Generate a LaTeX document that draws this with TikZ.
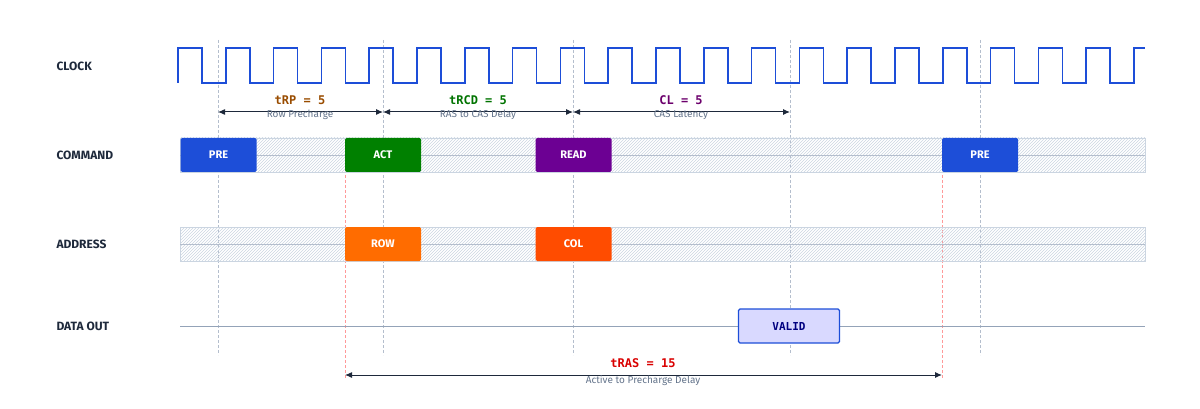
\documentclass[tikz,border=0pt]{standalone}
\usepackage{fontspec}
\setmainfont{Fira Sans}
\setmonofont{DejaVu Sans Mono}
\usetikzlibrary{arrows.meta,patterns}
\definecolor{clk}{HTML}{1D4ED8}
\definecolor{ink}{HTML}{1E293B}
\definecolor{mute}{HTML}{64748B}
\definecolor{grid}{HTML}{94A3B8}
\definecolor{hatch}{HTML}{CBD5E1}
\tikzset{
  rowlabel/.style={anchor=west, font=\fontsize{12}{12}\selectfont\bfseries, text=ink},
  cmd/.style={draw=none, fill=#1, rounded corners=1.5pt, minimum height=34pt, minimum width=76pt,
    text=white, font=\fontsize{11}{11}\selectfont\bfseries, inner sep=0pt},
  bus/.style={draw=hatch, pattern=north east lines, pattern color=hatch},
  cyc/.style={densely dashed, grid!70, line width=0.6pt},
  ras/.style={densely dashed, red!40, line width=0.6pt},
  span/.style={{Latex[length=7pt,width=6pt]}-{Latex[length=7pt,width=6pt]}, ink, line width=1pt},
  tname/.style={font=\ttfamily\fontsize{12}{12}\selectfont\bfseries},
  tsub/.style={font=\fontsize{10}{10}\selectfont, text=mute}
}
\begin{document}
\begin{tikzpicture}[x=1pt,y=-1pt]
  \useasboundingbox (0,0) rectangle (1200,409);
  % row labels
  \node[rowlabel] (lclk) at (53,66) {CLOCK};
  \node[rowlabel] (lcmd) at (53,155) {COMMAND};
  \node[rowlabel] (ladr) at (53,244) {ADDRESS};
  \node[rowlabel] (ldat) at (53,326) {DATA OUT};
  % cycle markers
  \foreach \x in {218,383,573,790,980}
    \draw[cyc] (\x,40) -- (\x,355);
  \foreach \x in {345,942}
    \draw[ras] (\x,175) -- (\x,378);
  % clock
  \draw[clk, line width=1.6pt]
    (178,83) \foreach \i in {0,...,19} {
      -- ++(0,-35) -- ++(23.9,0) -- ++(0,35) -- ++(23.9,0) }
    -- ++(0,-35) -- (1145,48);
  % buses
  \draw[bus] (180,138) rectangle (1145,172);
  \draw[grid!70] (180,155) -- (1145,155);
  \draw[bus] (180,227) rectangle (1145,261);
  \draw[grid!70] (180,244) -- (1145,244);
  \draw[grid, line width=1pt] (180,326) -- (1145,326);
  % commands
  \node[cmd=clk] (pre1) at (218.5,155) {PRE};
  \node[cmd=green!50!black] (act) at (383,155) {ACT};
  \node[cmd=violet!85!blue] (read) at (573.5,155) {READ};
  \node[cmd=clk] (pre2) at (980,155) {PRE};
  \node[cmd=orange!85!red] (row) at (383,244) {ROW};
  \node[cmd=orange!60!red] (col) at (573.5,244) {COL};
  \node[cmd=blue!15, draw=clk, line width=1.2pt, minimum width=101pt, text=blue!50!black,
    font=\ttfamily\fontsize{11}{11}\selectfont\bfseries] (valid) at (789,326) {VALID};
  % timing spans
  \coordinate (t0) at (218,112);
  \coordinate (t1) at (383,112);
  \coordinate (t2) at (573,112);
  \coordinate (t3) at (790,112);
  \draw[span] (t0) -- (t1);
  \draw[span] (t1) -- (t2);
  \draw[span] (t2) -- (t3);
  \node[tname, text=orange!60!black] (trp) at (300,100) {tRP = 5};
  \node[tsub] at (300,115) {Row Precharge};
  \node[tname, text=green!45!black] (trcd) at (478,100) {tRCD = 5};
  \node[tsub] at (478,115) {RAS to CAS Delay};
  \node[tname, text=violet!85!black] (tcl) at (681,100) {CL = 5};
  \node[tsub] at (681,115) {CAS Latency};
  \coordinate (r0) at (345,375);
  \coordinate (r1) at (942,375);
  \draw[span] (r0) -- (r1);
  \node[tname, text=red!85!black] (tras) at (643,363) {tRAS = 15};
  \node[tsub] at (643,381) {Active to Precharge Delay};
\end{tikzpicture}
\end{document}
